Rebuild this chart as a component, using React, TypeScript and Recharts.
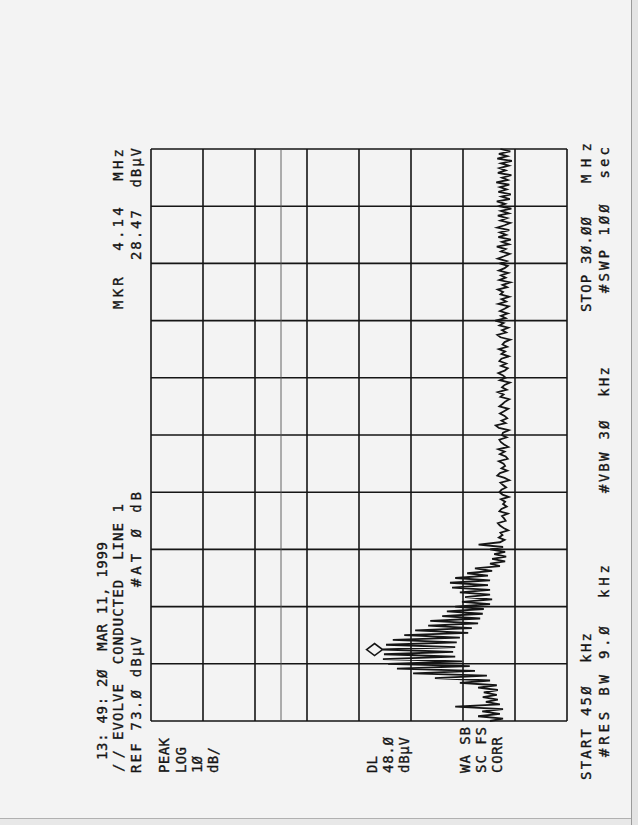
import { CartesianGrid, Line, LineChart, ReferenceDot, ReferenceLine, XAxis, YAxis } from 'recharts'

// sweep: 450 kHz .. 30 MHz, 241 points
const START_MHZ = 0.45
const STOP_MHZ = 30

// trace in dBµV, low band (first 76 sweep points, the conducted emission bursts)
const lowBandDbuv = [
  7.8, 5.3, 10.1, 5.9, 9.3, 5.3, 14.5, 5.9, 8.6, 6.3,
  9.2, 6.5, 9.0, 6.3, 10.1, 6.5, 13.6, 7.8, 18.4, 8.4,
  22.6, 10.7, 25.7, 11.7, 27.4, 13.2, 28.4, 14.5, 28.2, 14.9,
  28.47, 14.5, 27.8, 14.2, 26.5, 13.6, 24.3, 12.0, 22.2, 11.3,
  19.7, 10.1, 19.3, 9.7, 17.0, 9.2, 16.1, 9.0, 14.5, 7.8,
  13.2, 7.4, 12.6, 7.8, 13.6, 7.8, 15.1, 8.2, 15.5, 7.8,
  14.5, 8.2, 12.2, 7.4, 10.7, 5.9, 7.8, 4.9, 7.4, 4.7,
  7.0, 4.9, 7.8, 5.3, 10.0, 5.9,
]

// trace in dBµV, rest of the sweep (noise floor)
const upperBandDbuv = [
  5.0, 6.1, 5.4, 5.8, 4.3, 5.2, 5.9, 6.3, 4.8, 5.1,
  5.5, 4.4, 6.0, 5.6, 4.6, 5.3, 4.9, 5.7, 4.2, 5.4,
  6.0, 5.6, 4.7, 5.3, 5.8, 4.1, 5.0, 6.4, 5.9, 4.5,
  5.6, 4.9, 5.2, 6.1, 4.4, 4.8, 5.9, 5.0, 6.2, 4.3,
  5.1, 5.7, 6.0, 4.6, 5.5, 5.3, 4.2, 6.1, 6.7, 4.8,
  5.6, 4.5, 5.0, 5.9, 5.1, 4.3, 6.0, 5.4, 4.9, 4.1,
  5.8, 5.2, 6.3, 4.6, 5.5, 5.0, 4.0, 5.9, 4.8, 5.3,
  6.2, 5.0, 4.4, 5.7, 4.7, 6.0, 5.6, 4.2, 5.6, 4.9,
  6.1, 4.5, 5.4, 5.0, 3.9, 5.8, 6.4, 4.7, 5.5, 4.3,
  6.0, 5.2, 6.8, 4.8, 5.7, 4.4, 5.9, 5.0, 4.2, 6.2,
  4.7, 5.6, 4.1, 5.8, 5.3, 6.3, 4.5, 5.4, 3.9, 6.0,
  4.8, 5.7, 4.3, 6.1, 5.0, 4.4, 5.9, 4.6, 6.3, 5.1,
  4.0, 5.7, 4.8, 6.5, 4.2, 5.5, 3.8, 6.2, 4.7, 5.9,
  4.1, 6.4, 5.0, 3.9, 5.8, 4.5, 6.3, 4.2, 5.7, 3.7,
  6.1, 4.9, 6.5, 4.0, 5.6, 3.8, 6.2, 4.6, 5.9, 4.1,
  6.6, 4.4, 5.5, 3.7, 6.3, 4.8, 6.0, 4.2, 5.7, 3.6,
  6.4, 4.5, 6.1, 3.9, 5.8,
]

// 10 divisions across, 8 divisions of 10 dB down from REF 73 dBµV
const freqTicks = [0.45, 3.405, 6.36, 9.315, 12.27, 15.225, 18.18, 21.135, 24.09, 27.045, 30]
const ampTicks = [-7, 3, 13, 23, 33, 43, 53, 63, 73]
const displayLineDbuv = 48
const markerFreqMhz = 4.14
const markerDbuv = 28.47

const trace = [...lowBandDbuv, ...upperBandDbuv]
const data = trace.map((amp, i) => ({
  freq: START_MHZ + (i * (STOP_MHZ - START_MHZ)) / (trace.length - 1),
  amp,
}))

const ink = '#151515'

const Diamond = (props: any) => {
  const { cx, cy } = props
  const y = cy - 8
  return (
    <path
      d={`M${cx},${y - 8} L${cx + 6},${y} L${cx},${y + 8} L${cx - 6},${y} Z`}
      fill="none"
      stroke={ink}
      strokeWidth={1.6}
    />
  )
}

const T = ({ x, y, w, end, children }: any) => (
  <text
    x={x}
    y={y}
    textLength={w}
    lengthAdjust="spacing"
    textAnchor={end ? 'end' : 'start'}
    fill={ink}
    stroke={ink}
    strokeWidth={0.35}
    fontSize={14}
    fontFamily="'DejaVu Sans Mono', monospace"
    style={{ whiteSpace: 'pre' }}
  >
    {children}
  </text>
)

export default function App() {
  return (
    <div style={{ position: 'absolute', left: 0, top: 0, width: 638, height: 825, background: '#f3f3f3', overflow: 'hidden' }}>
      {/* paper edge of the scan */}
      <div style={{ position: 'absolute', left: 631, top: 0, width: 7, height: 825, background: '#e4e4e4', borderLeft: '1px solid #9a9a9a' }} />
      <div style={{ position: 'absolute', left: 0, top: 818, width: 631, height: 7, background: '#e8e8e8', borderTop: '1px solid #b0b0b0' }} />

      {/* the plot is drawn landscape and turned a quarter turn, like the printout */}
      <div
        style={{
          position: 'absolute',
          left: 0,
          top: 825,
          width: 825,
          height: 638,
          transform: 'rotate(-90deg)',
          transformOrigin: '0 0',
        }}
      >
        <LineChart width={825} height={638} data={data} margin={{ top: 151, right: 149, bottom: 71, left: 104 }}>
          <XAxis type="number" dataKey="freq" domain={[START_MHZ, STOP_MHZ]} ticks={freqTicks} hide />
          <YAxis type="number" domain={[-7, 73]} ticks={ampTicks} hide />
          <CartesianGrid stroke={ink} strokeWidth={1.6} />
          <ReferenceLine y={displayLineDbuv} stroke="#555" strokeWidth={0.9} />
          <Line
            dataKey="amp"
            type="linear"
            stroke={ink}
            strokeWidth={1.8}
            dot={false}
            isAnimationActive={false}
          />
          <ReferenceDot x={markerFreqMhz} y={markerDbuv} shape={Diamond} />
        </LineChart>

        <svg width={825} height={638} style={{ position: 'absolute', left: 0, top: 0 }}>
          <T x={65} y={107} w={218}>13: 49: 2Ø  MAR 11, 1999</T>
          <T x={53} y={123} w={22}>//</T>
          <T x={85} y={123} w={236}>EVOLVE  CONDUCTED  LINE 1</T>
          <T x={52} y={141} w={136}>REF 73.Ø dBµV</T>
          <T x={238} y={141} w={95}>#AT Ø dB</T>
          <T x={676} y={123} w={160} end>MKR  4.14  MHz</T>
          <T x={677} y={141} w={112} end>28.47  dBµV</T>

          <T x={52} y={169} w={35}>PEAK</T>
          <T x={52} y={186} w={26}>LOG</T>
          <T x={52} y={202} w={17}>1Ø</T>
          <T x={52} y={218} w={26}>dB/</T>
          <T x={52} y={377} w={17}>DL</T>
          <T x={52} y={393} w={36}>48.Ø</T>
          <T x={52} y={409} w={36}>dBµV</T>
          <T x={52} y={470} w={46}>WA SB</T>
          <T x={52} y={486} w={46}>SC FS</T>
          <T x={52} y={502} w={36}>CORR</T>

          <T x={45} y={591} w={147}>START 45Ø  kHz</T>
          <T x={513} y={591} w={95}>STOP 3Ø.ØØ</T>
          <T x={642} y={591} w={40}>MHz</T>
          <T x={68} y={609} w={192}>#RES BW 9.Ø  kHz</T>
          <T x={332} y={609} w={126}>#VBW 3Ø  kHz</T>
          <T x={532} y={609} w={146}>#SWP 1ØØ  sec</T>
        </svg>
      </div>
    </div>
  )
}
